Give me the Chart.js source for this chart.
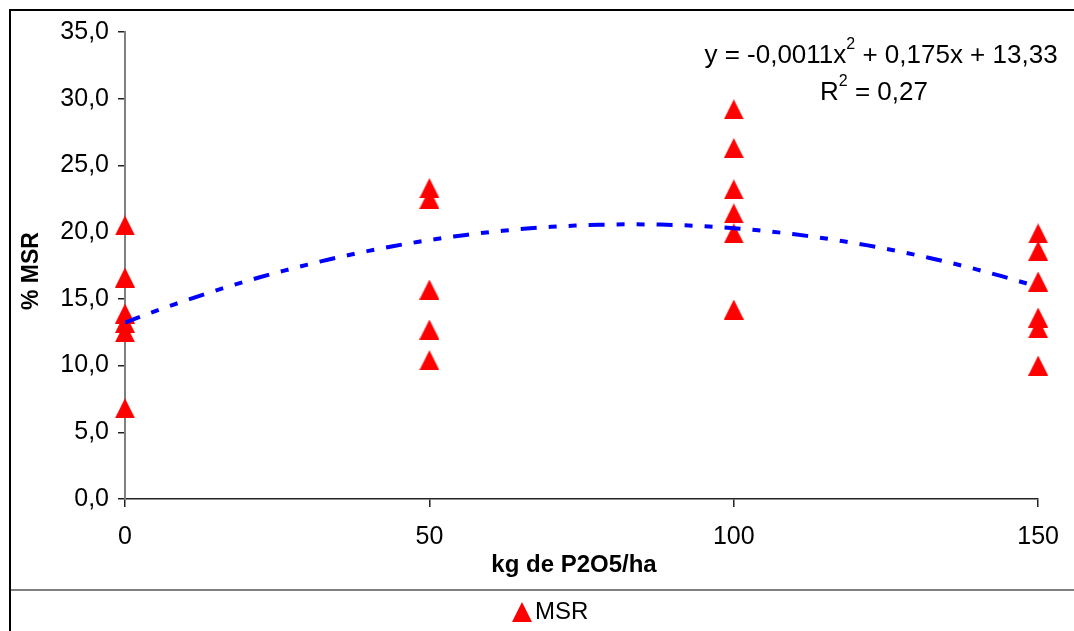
<!DOCTYPE html>
<html>
<head>
<meta charset="utf-8">
<script src="https://cdn.jsdelivr.net/npm/chart.js@4/dist/chart.umd.min.js"></script>
<style>
    body { margin: 0; background: #fff; }
    #wrap { width: 1074px; height: 631px; }
</style>
</head>
<body>
<div id="wrap"><canvas id="chart" width="1074" height="631"></canvas></div>
<script>
// Data
const doses = [0, 50, 100, 150];
const msrDose0 = [20.5, 16.6, 13.9, 13.2, 12.5, 6.8];
const msrDose50 = [23.3, 22.5, 15.7, 12.7, 10.4];
const msrDose100 = [29.2, 26.3, 23.2, 21.4, 19.9, 14.2];
const msrDose150 = [19.9, 18.6, 16.3, 13.6, 12.8, 10.0];
const xTicks = [0, 50, 100, 150];
const yTicks = [0, 5, 10, 15, 20, 25, 30, 35];
const equationText = ['y = -0,0011x', '2', ' + 0,175x + 13,33'];
const r2Text = ['R', '2', ' = 0,27'];

const FONT = "'Liberation Sans', Arial, sans-serif";

// Build scatter points
const msrGroups = [msrDose0, msrDose50, msrDose100, msrDose150];
const msrPoints = [];
msrGroups.forEach((vals, i) => {
    vals.forEach(v => msrPoints.push({ x: doses[i], y: v }));
});

// Polynomial (order 2) trendline, least squares like Excel does
function quadFit(pts) {
    let s = [0, 0, 0, 0, 0], t = [0, 0, 0];
    pts.forEach(p => {
        for (let k = 0; k < 5; k++) s[k] += Math.pow(p.x, k);
        for (let k = 0; k < 3; k++) t[k] += Math.pow(p.x, k) * p.y;
    });
    const m = [
        [s[0], s[1], s[2], t[0]],
        [s[1], s[2], s[3], t[1]],
        [s[2], s[3], s[4], t[2]]
    ];
    for (let i = 0; i < 3; i++) {
        for (let j = i + 1; j < 3; j++) {
            const f = m[j][i] / m[i][i];
            for (let k = i; k < 4; k++) m[j][k] -= f * m[i][k];
        }
    }
    const c = [0, 0, 0];
    for (let i = 2; i >= 0; i--) {
        let sum = m[i][3];
        for (let k = i + 1; k < 3; k++) sum -= m[i][k] * c[k];
        c[i] = sum / m[i][i];
    }
    return c;
}
const coef = quadFit(msrPoints);
const trendPoints = [];
for (let x = doses[0]; x <= doses[doses.length - 1]; x += 2) {
    trendPoints.push({ x: x, y: coef[0] + coef[1] * x + coef[2] * x * x });
}

// Triangle marker, centred on the point like Excel
function makeTriangle(w, h, color) {
    const c = document.createElement('canvas');
    c.width = w; c.height = h;
    const g = c.getContext('2d');
    g.fillStyle = color;
    g.beginPath();
    g.moveTo(w / 2, 0);
    g.lineTo(w, h);
    g.lineTo(0, h);
    g.closePath();
    g.fill();
    return c;
}
const triangle = makeTriangle(20, 20, '#ff0000');

function drawSuper(ctx, parts, cx, cy, size) {
    ctx.font = size + 'px ' + FONT;
    const w0 = ctx.measureText(parts[0]).width;
    const w2 = ctx.measureText(parts[2]).width;
    ctx.font = Math.round(size * 0.62) + 'px ' + FONT;
    const w1 = ctx.measureText(parts[1]).width;
    let x = cx - (w0 + w1 + w2) / 2;
    ctx.textAlign = 'left';
    ctx.textBaseline = 'middle';
    ctx.font = size + 'px ' + FONT;
    ctx.fillText(parts[0], x, cy);
    x += w0;
    ctx.font = Math.round(size * 0.62) + 'px ' + FONT;
    ctx.fillText(parts[1], x, cy - size * 0.42);
    x += w1;
    ctx.font = size + 'px ' + FONT;
    ctx.fillText(parts[2], x, cy);
}

const decorations = {
    id: 'decorations',
    afterDraw(chart) {
        const ctx = chart.ctx;
        ctx.save();
        // outer frame and legend separator
        ctx.strokeStyle = '#000';
        ctx.lineWidth = 2;
        ctx.strokeRect(10, 10, 1080, 640);
        ctx.strokeStyle = '#808080';
        ctx.beginPath();
        ctx.moveTo(11, 590);
        ctx.lineTo(1074, 590);
        ctx.stroke();

        ctx.fillStyle = '#000';
        // axis titles
        ctx.font = "bold 24px 'Liberation Sans Narrow', 'Liberation Sans', Arial, sans-serif";
        ctx.textAlign = 'center';
        ctx.textBaseline = 'middle';
        ctx.fillText('kg de P2O5/ha', 574, 565);
        ctx.save();
        ctx.translate(32, 271);
        ctx.rotate(-Math.PI / 2);
        ctx.font = 'bold 23px ' + FONT;
        ctx.fillText('% MSR', 0, 0);
        ctx.restore();

        // trendline equation
        drawSuper(ctx, equationText, 881, 56, 26);
        drawSuper(ctx, r2Text, 874, 93, 26);

        // legend
        ctx.drawImage(triangle, 512, 602);
        ctx.font = '24px ' + FONT;
        ctx.textAlign = 'left';
        ctx.textBaseline = 'middle';
        ctx.fillText('MSR', 535, 612);
        ctx.restore();
    }
};

const tickFont = { family: FONT, size: 25 };

new Chart(document.getElementById('chart'), {
    type: 'scatter',
    data: {
        datasets: [
            {
                label: 'MSR',
                data: msrPoints,
                pointStyle: triangle,
                pointRadius: 10,
                pointHoverRadius: 10,
                backgroundColor: '#ff0000',
                borderColor: '#ff0000',
                clip: false,
                order: 2
            },
            {
                label: 'Trend',
                type: 'line',
                data: trendPoints,
                showLine: true,
                borderColor: '#0000ff',
                borderWidth: 4,
                borderDash: [16, 12, 8, 12, 8, 12],
                pointRadius: 0,
                fill: false,
                tension: 0,
                order: 1
            }
        ]
    },
    options: {
        responsive: false,
        animation: false,
        layout: { padding: { left: 10, top: 32, right: 31, bottom: 0 } },
        plugins: {
            legend: { display: false },
            tooltip: { enabled: false }
        },
        scales: {
            x: {
                type: 'linear',
                min: 0,
                max: 150,
                afterBuildTicks: s => { s.ticks = xTicks.map(v => ({ value: v })); },
                afterFit: s => { s.height = 132; },
                grid: { drawOnChartArea: false, drawTicks: true, tickLength: 8, color: '#222', lineWidth: 1.5 },
                border: { display: true, color: '#222', width: 1.5 },
                ticks: { font: tickFont, color: '#000', padding: 15, maxRotation: 0 }
            },
            y: {
                min: 0,
                max: 35,
                afterBuildTicks: s => { s.ticks = yTicks.map(v => ({ value: v })); },
                afterFit: s => { s.width = 115; },
                grid: { drawOnChartArea: false, drawTicks: true, tickLength: 7, color: '#222', lineWidth: 1.5 },
                border: { display: true, color: '#808080', width: 2 },
                ticks: {
                    font: tickFont,
                    color: '#000',
                    padding: 9,
                    callback: v => v.toFixed(1).replace('.', ',')
                }
            }
        }
    },
    plugins: [decorations]
});
</script>
</body>
</html>
